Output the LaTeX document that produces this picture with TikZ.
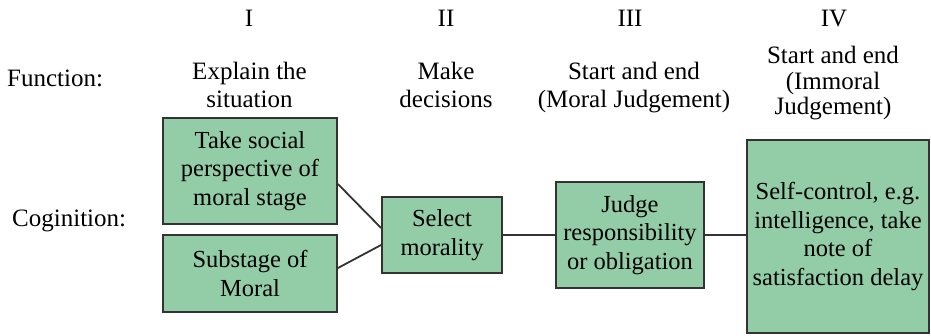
\documentclass[tikz,border=0pt]{standalone}
\usepackage{fontspec}
\setmainfont{Liberation Serif}
\definecolor{boxgreen}{HTML}{93CDA7}
\definecolor{edgegray}{HTML}{333333}
\begin{document}
\begin{tikzpicture}[x=1pt,y=-1pt,
  box/.style={draw=edgegray, fill=boxgreen, line width=1.8pt, inner sep=0pt,
    align=center, font=\rmfamily\fontsize{24.5}{28.5}\selectfont},
  link/.style={draw=edgegray, line width=1.8pt},
  head/.style={inner sep=0pt, align=center, anchor=base,
    font=\rmfamily\fontsize{25}{28}\selectfont},
  label/.style={inner sep=0pt, anchor=base west,
    font=\rmfamily\fontsize{25}{28}\selectfont},
]
\useasboundingbox (0,0) rectangle (931,336);

% column numerals
\node[head] (n1) at (249,27) {I};
\node[head] (n2) at (446,27) {II};
\node[head] (n3) at (630,27) {III};
\node[head] (n4) at (834,27) {IV};

% row labels
\node[label] (fun) at (7,87) {Function:};
\node[label] (cog) at (12,227) {Coginition:};

% function of each column (anchored on the baseline of the last line)
\node[head] (f1) at (249.5,108) {Explain the\\situation};
\node[head] (f2) at (446,108) {Make\\decisions};
\node[head] (f3) at (634,108) {Start and end\\(Moral Judgement)};
\node[head, font=\rmfamily\fontsize{25}{25.5}\selectfont] (f4) at (833,115)
  {Start and end\\(Immoral\\Judgement)};

% cognition boxes
\node[box, minimum width=174pt, minimum height=106pt] (A) at (250,171)
  {Take social\\perspective of\\moral stage};
\node[box, minimum width=174pt, minimum height=77pt] (B) at (250,273.5)
  {Substage of\\Moral};
\node[box, minimum width=120pt, minimum height=76pt] (C) at (442,235)
  {Select\\morality};
\node[box, minimum width=148pt, minimum height=106pt] (D) at (630,235)
  {Judge\\responsibility\\or obligation};
\node[box, minimum width=182pt, minimum height=193pt] (E) at (838,236.5)
  {Self-control, e.g.\\intelligence, take\\note of\\satisfaction delay};

% connectors
\draw[link] ([yshift=-13pt]A.east) -- ([yshift=7pt]C.west);
\draw[link] ([yshift=5.5pt]B.east) -- ([yshift=-10pt]C.west);
\draw[link] (C.east) -- (D.west);
\draw[link] (D.east) -- (D.east -| E.west);
\end{tikzpicture}
\end{document}
